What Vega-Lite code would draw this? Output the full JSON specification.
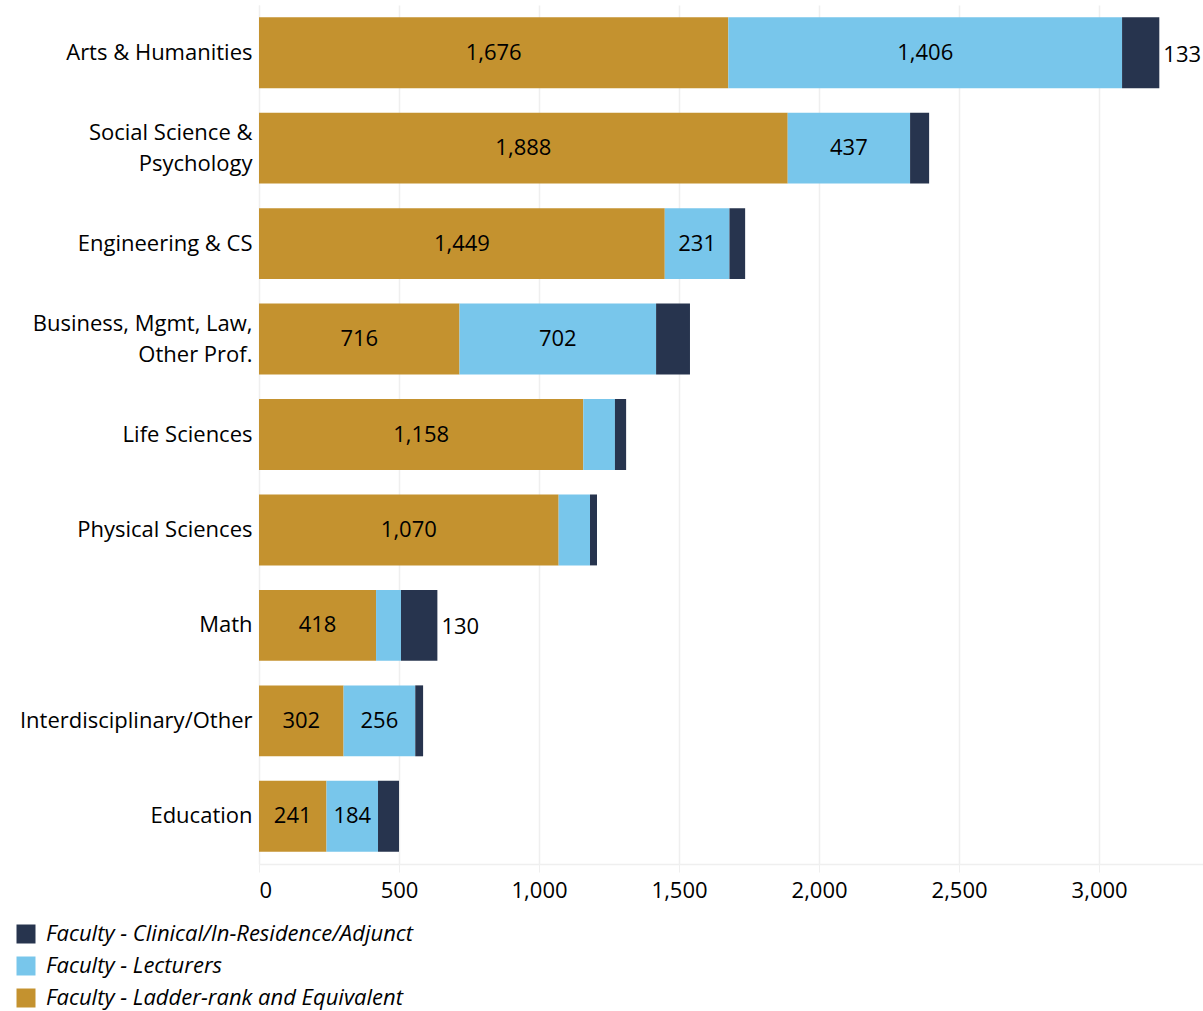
{
  "$schema": "https://vega.github.io/schema/vega-lite/v6.json",
  "autosize": "none",
  "padding": {"left": 259, "top": 5, "right": 0, "bottom": 147},
  "width": 944,
  "height": 859,
  "background": "white",
  "config": {
    "font": "Open Sans",
    "view": {"stroke": null}
  },
  "data": {
    "values": [
      {"category": "Arts & Humanities", "type": "Faculty - Ladder-rank and Equivalent", "seg": 1, "value": 1676, "shown": true},
      {"category": "Arts & Humanities", "type": "Faculty - Lecturers", "seg": 2, "value": 1406, "shown": true},
      {"category": "Arts & Humanities", "type": "Faculty - Clinical/In-Residence/Adjunct", "seg": 3, "value": 133, "shown": true},
      {"category": "Social Science &|Psychology", "type": "Faculty - Ladder-rank and Equivalent", "seg": 1, "value": 1888, "shown": true},
      {"category": "Social Science &|Psychology", "type": "Faculty - Lecturers", "seg": 2, "value": 437, "shown": true},
      {"category": "Social Science &|Psychology", "type": "Faculty - Clinical/In-Residence/Adjunct", "seg": 3, "value": 68, "shown": false},
      {"category": "Engineering & CS", "type": "Faculty - Ladder-rank and Equivalent", "seg": 1, "value": 1449, "shown": true},
      {"category": "Engineering & CS", "type": "Faculty - Lecturers", "seg": 2, "value": 231, "shown": true},
      {"category": "Engineering & CS", "type": "Faculty - Clinical/In-Residence/Adjunct", "seg": 3, "value": 56, "shown": false},
      {"category": "Business, Mgmt, Law,|Other Prof.", "type": "Faculty - Ladder-rank and Equivalent", "seg": 1, "value": 716, "shown": true},
      {"category": "Business, Mgmt, Law,|Other Prof.", "type": "Faculty - Lecturers", "seg": 2, "value": 702, "shown": true},
      {"category": "Business, Mgmt, Law,|Other Prof.", "type": "Faculty - Clinical/In-Residence/Adjunct", "seg": 3, "value": 121, "shown": false},
      {"category": "Life Sciences", "type": "Faculty - Ladder-rank and Equivalent", "seg": 1, "value": 1158, "shown": true},
      {"category": "Life Sciences", "type": "Faculty - Lecturers", "seg": 2, "value": 113, "shown": false},
      {"category": "Life Sciences", "type": "Faculty - Clinical/In-Residence/Adjunct", "seg": 3, "value": 40, "shown": false},
      {"category": "Physical Sciences", "type": "Faculty - Ladder-rank and Equivalent", "seg": 1, "value": 1070, "shown": true},
      {"category": "Physical Sciences", "type": "Faculty - Lecturers", "seg": 2, "value": 112, "shown": false},
      {"category": "Physical Sciences", "type": "Faculty - Clinical/In-Residence/Adjunct", "seg": 3, "value": 25, "shown": false},
      {"category": "Math", "type": "Faculty - Ladder-rank and Equivalent", "seg": 1, "value": 418, "shown": true},
      {"category": "Math", "type": "Faculty - Lecturers", "seg": 2, "value": 89, "shown": false},
      {"category": "Math", "type": "Faculty - Clinical/In-Residence/Adjunct", "seg": 3, "value": 130, "shown": true},
      {"category": "Interdisciplinary/Other", "type": "Faculty - Ladder-rank and Equivalent", "seg": 1, "value": 302, "shown": true},
      {"category": "Interdisciplinary/Other", "type": "Faculty - Lecturers", "seg": 2, "value": 256, "shown": true},
      {"category": "Interdisciplinary/Other", "type": "Faculty - Clinical/In-Residence/Adjunct", "seg": 3, "value": 28, "shown": false},
      {"category": "Education", "type": "Faculty - Ladder-rank and Equivalent", "seg": 1, "value": 241, "shown": true},
      {"category": "Education", "type": "Faculty - Lecturers", "seg": 2, "value": 184, "shown": true},
      {"category": "Education", "type": "Faculty - Clinical/In-Residence/Adjunct", "seg": 3, "value": 75, "shown": false}
    ]
  },
  "transform": [
    {"stack": "value", "groupby": ["category"], "sort": [{"field": "seg", "order": "ascending"}], "as": ["x0", "x1"]},
    {"calculate": "(datum.x0 + datum.x1) / 2", "as": "xmid"}
  ],
  "encoding": {
    "y": {
      "field": "category",
      "type": "nominal",
      "sort": null,
      "scale": {"paddingInner": 0.257, "paddingOuter": 0.1285},
      "axis": {
        "title": null,
        "ticks": false,
        "domain": true,
        "domainColor": "#efefef",
        "labelExpr": "split(datum.label, '|')",
        "labelFontSize": 22,
        "labelColor": "#000000",
        "labelPadding": 7,
        "labelLineHeight": 31,
        "labelLimit": 300,
        "labelOffset": {"condition": {"test": "indexof(datum.value, '|') >= 0", "value": -15.5}, "value": 0}
      }
    }
  },
  "layer": [
    {
      "mark": {"type": "bar"},
      "encoding": {
        "x": {
          "field": "x0",
          "type": "quantitative",
          "scale": {"domain": [0, 3371], "nice": false, "zero": true},
          "axis": {
            "title": null,
            "values": [0, 500, 1000, 1500, 2000, 2500, 3000],
            "labelExpr": "format(datum.value, ',')",
            "grid": true,
            "gridColor": "#efefef",
            "gridWidth": 1.5,
            "domainColor": "#efefef",
            "domainWidth": 1.5,
            "tickColor": "#efefef",
            "tickSize": 8,
            "labelFontSize": 22,
            "labelColor": "#000000",
            "labelPadding": 8,
            "labelFlush": true
          }
        },
        "x2": {"field": "x1"},
        "color": {
          "field": "type",
          "type": "nominal",
          "scale": {
            "domain": ["Faculty - Clinical/In-Residence/Adjunct", "Faculty - Lecturers", "Faculty - Ladder-rank and Equivalent"],
            "range": ["#27344E", "#78C6EB", "#C4922F"]
          },
          "legend": {
            "title": null,
            "orient": "none",
            "legendX": -244,
            "legendY": 918,
            "symbolType": "square",
            "symbolSize": 361,
            "symbolStrokeWidth": 0,
            "labelFontSize": 22,
            "labelFontStyle": "italic",
            "labelColor": "#000000",
            "labelOffset": 9,
            "rowPadding": 10,
            "labelLimit": 600
          }
        }
      }
    },
    {
      "transform": [{"filter": "datum.shown && datum.seg < 3"}],
      "mark": {"type": "text", "fontSize": 22, "color": "#000000", "align": "center", "baseline": "middle"},
      "encoding": {
        "x": {"field": "xmid", "type": "quantitative"},
        "text": {"field": "value", "type": "quantitative", "format": ","}
      }
    },
    {
      "transform": [{"filter": "datum.shown && datum.seg == 3"}],
      "mark": {"type": "text", "fontSize": 22, "color": "#000000", "align": "left", "baseline": "middle", "dx": 4, "dy": 2},
      "encoding": {
        "x": {"field": "x1", "type": "quantitative"},
        "text": {"field": "value", "type": "quantitative", "format": ","}
      }
    }
  ]
}
